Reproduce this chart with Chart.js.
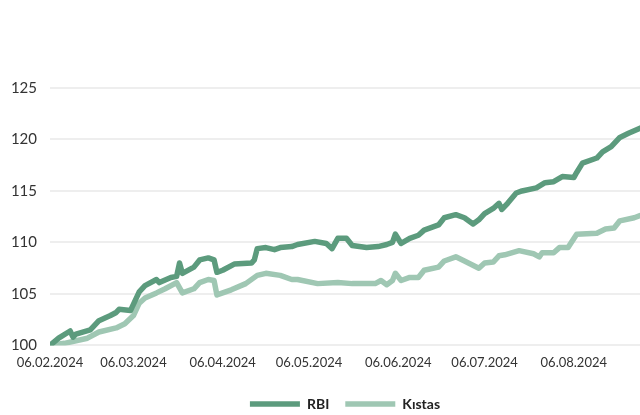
<!DOCTYPE html>
<html>
<head>
<meta charset="utf-8">
<script src="https://cdn.jsdelivr.net/npm/chart.js@4"></script>
<style>
  html, body { margin: 0; padding: 0; background: #fff; }
  #wrap { width: 640px; height: 415px; position: relative; }
</style>
</head>
<body>
<div id="wrap"><canvas id="perfChart"></canvas></div>
<script>
const rbiDates = [
  "2024-02-06", "2024-02-09", "2024-02-13", "2024-02-14", "2024-02-15", "2024-02-20", "2024-02-23",
  "2024-02-27", "2024-02-29", "2024-03-01", "2024-03-05", "2024-03-08", "2024-03-10", "2024-03-14",
  "2024-03-15", "2024-03-19", "2024-03-21", "2024-03-22", "2024-03-23", "2024-03-27", "2024-03-29",
  "2024-04-01", "2024-04-03", "2024-04-04", "2024-04-06", "2024-04-10", "2024-04-16", "2024-04-17",
  "2024-04-18", "2024-04-21", "2024-04-24", "2024-04-26", "2024-04-30", "2024-05-02", "2024-05-08",
  "2024-05-12", "2024-05-14", "2024-05-16", "2024-05-19", "2024-05-21", "2024-05-26", "2024-05-30",
  "2024-06-02", "2024-06-04", "2024-06-05", "2024-06-07", "2024-06-10", "2024-06-13", "2024-06-15",
  "2024-06-20", "2024-06-22", "2024-06-26", "2024-06-29", "2024-07-02", "2024-07-04", "2024-07-06",
  "2024-07-09", "2024-07-11", "2024-07-12", "2024-07-14", "2024-07-17", "2024-07-19", "2024-07-24",
  "2024-07-27", "2024-07-30", "2024-08-02", "2024-08-06", "2024-08-07", "2024-08-09", "2024-08-14",
  "2024-08-16", "2024-08-19", "2024-08-22", "2024-08-25", "2024-08-29"
];
const rbiValues = [
  100.0, 100.7, 101.4, 100.8, 101.1, 101.5, 102.4,
  102.9, 103.2, 103.5, 103.4, 105.2, 105.8, 106.4,
  106.1, 106.6, 106.7, 108.0, 107.0, 107.6, 108.3,
  108.5, 108.3, 107.1, 107.3, 107.9, 108.0, 108.3,
  109.4, 109.5, 109.3, 109.5, 109.6, 109.8, 110.1,
  109.9, 109.4, 110.4, 110.4, 109.7, 109.5, 109.6,
  109.8, 110.0, 110.8, 109.9, 110.4, 110.7, 111.2,
  111.7, 112.4, 112.7, 112.4, 111.8, 112.2, 112.8,
  113.3, 113.8, 113.2, 113.8, 114.8, 115.0, 115.3,
  115.8, 115.9, 116.4, 116.3, 116.8, 117.7, 118.2,
  118.8, 119.3, 120.2, 120.6, 121.1
];

const kistasDates = [
  "2024-02-06", "2024-02-11", "2024-02-19", "2024-02-23", "2024-02-29", "2024-03-03", "2024-03-06",
  "2024-03-08", "2024-03-10", "2024-03-14", "2024-03-17", "2024-03-21", "2024-03-23", "2024-03-27",
  "2024-03-29", "2024-04-01", "2024-04-03", "2024-04-04", "2024-04-09", "2024-04-14", "2024-04-18",
  "2024-04-21", "2024-04-26", "2024-04-30", "2024-05-02", "2024-05-09", "2024-05-16", "2024-05-21",
  "2024-05-29", "2024-05-31", "2024-06-02", "2024-06-04", "2024-06-05", "2024-06-07", "2024-06-10",
  "2024-06-13", "2024-06-15", "2024-06-20", "2024-06-22", "2024-06-26", "2024-06-29", "2024-07-04",
  "2024-07-06", "2024-07-09", "2024-07-11", "2024-07-13", "2024-07-18", "2024-07-23", "2024-07-25",
  "2024-07-26", "2024-07-30", "2024-08-01", "2024-08-04", "2024-08-07", "2024-08-14", "2024-08-17",
  "2024-08-20", "2024-08-22", "2024-08-27", "2024-08-29"
];
const kistasValues = [
  100.0, 100.2, 100.7, 101.3, 101.7, 102.1, 102.9,
  104.1, 104.6, 105.1, 105.5, 106.1, 105.1, 105.5,
  106.1, 106.4, 106.3, 104.9, 105.4, 106.0, 106.8,
  107.0, 106.8, 106.4, 106.4, 106.0, 106.1, 106.0,
  106.0, 106.3, 105.9, 106.3, 107.0, 106.3, 106.6,
  106.6, 107.3, 107.6, 108.2, 108.6, 108.2, 107.5,
  108.0, 108.1, 108.7, 108.8, 109.2, 108.9, 108.6,
  109.0, 109.0, 109.5, 109.5, 110.8, 110.9, 111.3,
  111.4, 112.1, 112.4, 112.6
];

const tickDates = ["2024-02-06", "2024-03-06", "2024-04-06", "2024-05-06", "2024-06-06", "2024-07-06", "2024-08-06"];
const yTicks = [100, 105, 110, 115, 120, 125];

const seriesNames = ["RBI", "Kıstas"];
const seriesColors = ["#5c9b7d", "#9fc7b3"];

// dates -> whole days, so the x axis is a plain linear scale
function toDay(s) {
  const [y, m, d] = s.split("-").map(Number);
  return Date.UTC(y, m - 1, d) / 86400000;
}
function fmtDay(v) {
  const dt = new Date(v * 86400000);
  const dd = String(dt.getUTCDate()).padStart(2, "0");
  const mm = String(dt.getUTCMonth() + 1).padStart(2, "0");
  return dd + "." + mm + "." + dt.getUTCFullYear();
}
function points(dates, values) {
  return dates.map((d, i) => ({ x: toDay(d), y: values[i] }));
}

const font = "Lato, 'Open Sans', sans-serif";

new Chart(document.getElementById("perfChart"), {
  type: "line",
  data: {
    datasets: [
      {
        label: seriesNames[0],
        data: points(rbiDates, rbiValues),
        borderColor: seriesColors[0],
        backgroundColor: seriesColors[0],
        borderWidth: 5.5,
        borderCapStyle: "round"
      },
      {
        label: seriesNames[1],
        data: points(kistasDates, kistasValues),
        borderColor: seriesColors[1],
        backgroundColor: seriesColors[1],
        borderWidth: 5.5,
        borderCapStyle: "round"
      }
    ]
  },
  options: {
    responsive: true,
    maintainAspectRatio: false,
    animation: false,
    layout: { padding: { top: 88, right: 0, left: 0, bottom: -6 } },
    elements: {
      line: { tension: 0, borderJoinStyle: "round" },
      point: { radius: 0, hoverRadius: 0 }
    },
    plugins: {
      tooltip: { enabled: false },
      legend: {
        position: "bottom",
        fullSize: false,
        labels: {
          usePointStyle: true,
          pointStyle: "line",
          pointStyleWidth: 50,
          padding: 16,
          color: "#222",
          font: { family: font, size: 14, weight: "bold" }
        }
      }
    },
    scales: {
      x: {
        type: "linear",
        min: toDay(rbiDates[0]),
        max: toDay(rbiDates[rbiDates.length - 1]),
        grid: { display: false },
        border: { display: false },
        afterBuildTicks: (axis) => { axis.ticks = tickDates.map(d => ({ value: toDay(d) })); },
        afterFit: (axis) => { axis.height += 8; },
        ticks: {
          autoSkip: false,
          maxRotation: 0,
          padding: 2,
          color: "#333",
          font: { family: font, size: 13 },
          callback: (v) => fmtDay(v)
        }
      },
      y: {
        min: yTicks[0],
        max: yTicks[yTicks.length - 1],
        afterFit: (axis) => { axis.width = 50; },
        afterBuildTicks: (axis) => { axis.ticks = yTicks.map(v => ({ value: v })); },
        grid: { color: "#eeeeee", lineWidth: 2, drawTicks: false },
        border: { display: false },
        ticks: {
          padding: 13,
          color: "#333",
          font: { family: font, size: 15 }
        }
      }
    }
  }
});
</script>
</body>
</html>
